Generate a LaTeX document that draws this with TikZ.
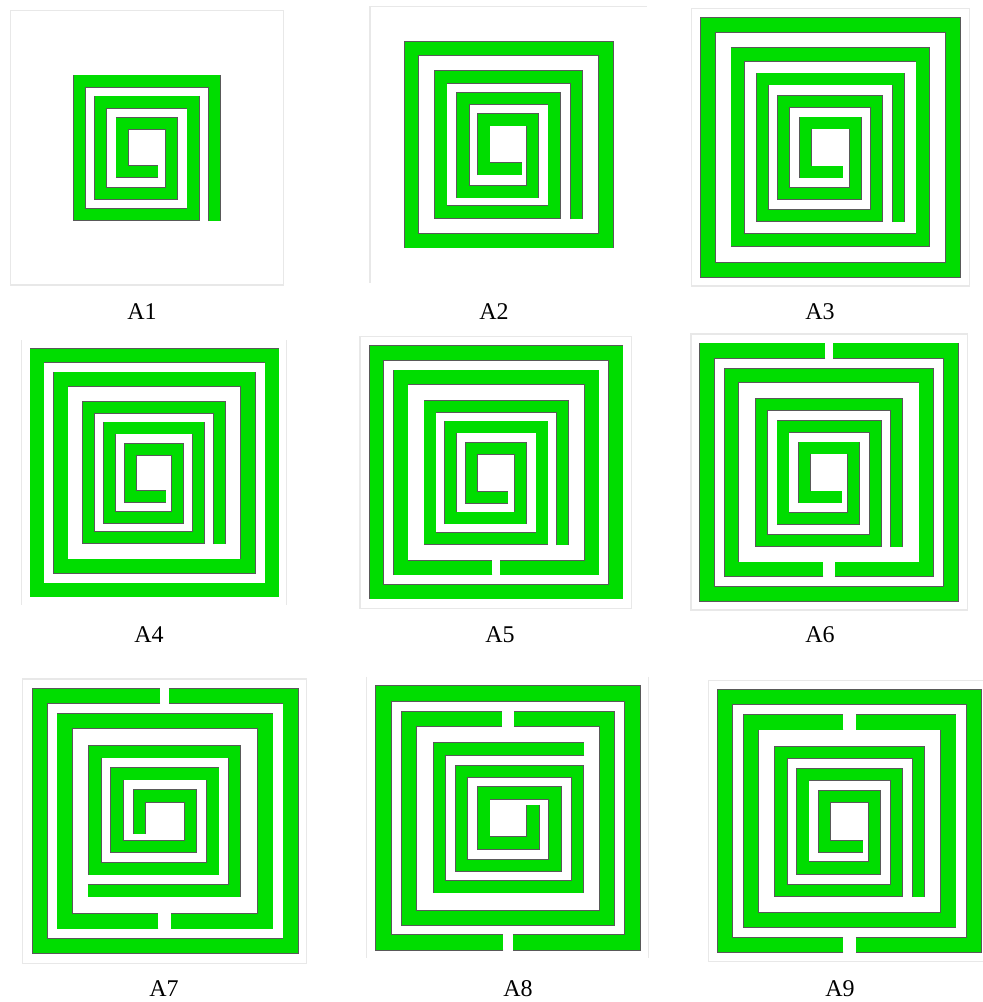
\documentclass[tikz,border=0pt]{standalone}
\usepackage{fontspec}
\setmainfont{Liberation Serif}
\usepackage{tikz}

\definecolor{mazegreen}{RGB}{0,221,0}

\tikzset{
  wall/.style={draw=black!65, line width=0.85pt, double=mazegreen, double distance=#1},
  frame/.style={draw=black!9, line width=1.1pt},
  panelname/.style={font=\fontsize{24}{24}\selectfont, anchor=base, inner sep=0pt}
}

\begin{document}
\begin{tikzpicture}[x=1pt, y=-1pt]
    \useasboundingbox (0,0) rectangle (983,1002);

    % A1 : UNA SOLA ESPIRAL
    \draw[frame] (10.7,10.7) rectangle (283.3,285);
    \draw[wall=11.3pt] (214.3,221) -- (214.3,81) -- (79.3,81) -- (79.3,214.7) -- (193,214.7) -- (193,102) -- (100.7,102) -- (100.7,193.3) -- (171.7,193.3) -- (171.7,123.2) -- (122,123.2) -- (122,171.7) -- (158.3,171.7);
    \node[panelname] (nA1) at (142,319.5) {A1};

    % A2 : ANELL TANCAT + ESPIRAL
    \draw[frame] (370,283) -- (370,6.7) -- (646.7,6.7);
    \draw[wall=13.6pt] (411.5,48.3) rectangle (606,240.8);
    \draw[wall=11.6pt] (576.3,219) -- (576.3,77) -- (440.8,77) -- (440.8,212) -- (554.2,212) -- (554.2,98.3) -- (463,98.3) -- (463,191.7) -- (532.5,191.7) -- (532.5,119.8) -- (483.7,119.8) -- (483.7,168.7) -- (521.7,168.7);
    \node[panelname] (nA2) at (494,319.5) {A2};

    % A3 : DOS ANELLS TANCATS + ESPIRAL
    \draw[frame] (691.7,8.3) rectangle (969.3,286);
    \draw[wall=14.1pt] (707.8,24.7) rectangle (952.8,269.7);
    \draw[wall=12.9pt] (737.8,54.7) rectangle (922.8,240);
    \draw[wall=11.1pt] (898.7,221.7) -- (898.7,79) -- (762.5,79) -- (762.5,215.5) -- (876.3,215.5) -- (876.3,101.2) -- (783.7,101.2) -- (783.7,193.7) -- (855.3,193.7) -- (855.3,123) -- (805.5,123) -- (805.5,172) -- (842.7,172);
    \node[panelname] (nA3) at (820,319.5) {A3};

    % A4 : DOS ANELLS TANCATS + ESPIRAL
    \draw[frame] (21.7,340) -- (21.7,605);
    \draw[frame] (286.7,340) -- (286.7,605);
    \draw[wall=13.1pt] (37,355.8) rectangle (272,590);
    \draw[wall=13.6pt] (60.8,379.2) rectangle (248,566.2);
    \draw[wall=11.1pt] (219.2,544) -- (219.2,407.5) -- (88.7,407.5) -- (88.7,537.8) -- (198.3,537.8) -- (198.3,428) -- (109.7,428) -- (109.7,517.5) -- (177.7,517.5) -- (177.7,449.5) -- (130.3,449.5) -- (130.3,496.3) -- (166,496.3);
    \node[panelname] (nA4) at (149,642.5) {A4};

    % A5 : ANELL TANCAT + ANELL OBERT A BAIX + ESPIRAL
    \draw[frame] (360,336.7) rectangle (631.7,608.3);
    \draw[wall=13.6pt] (376.5,353) rectangle (615.8,591.7);
    \draw[wall=13.6pt] (492.3,567.8) -- (400.8,567.8) -- (400.8,377.2) -- (591.7,377.2) -- (591.7,567.8) -- (500,567.8);
    \draw[wall=11.1pt] (562.8,545) -- (562.8,406.3) -- (430,406.3) -- (430,538.7) -- (542,538.7) -- (542,427) -- (450.5,427) -- (450.5,518) -- (520.5,518) -- (520.5,448.7) -- (471.7,448.7) -- (471.7,497.2) -- (508.3,497.2);
    \node[panelname] (nA5) at (500,642.5) {A5};

    % A6 : ANELL OBERT A DALT + ANELL OBERT A BAIX + ESPIRAL
    \draw[frame] (691,334) rectangle (967.3,610);
    \draw[wall=14.3pt] (825,350.5) -- (707.2,350.5) -- (707.2,593.8) -- (951.2,593.8) -- (951.2,350.5) -- (833.3,350.5);
    \draw[wall=13.6pt] (823.3,569.2) -- (731.5,569.2) -- (731.5,375.5) -- (926.2,375.5) -- (926.2,569.2) -- (835,569.2);
    \draw[wall=11.1pt] (896.2,546.7) -- (896.2,404.7) -- (761.2,404.7) -- (761.2,540.3) -- (875.5,540.3) -- (875.5,426.3) -- (783,426.3) -- (783,518.7) -- (853.7,518.7) -- (853.7,448) -- (804.5,448) -- (804.5,497) -- (841.7,497);
    \node[panelname] (nA6) at (820,642.5) {A6};

    % A7 : ESPIRAL INVERTIDA
    \draw[frame] (22.7,679) rectangle (306.7,963.3);
    \draw[wall=14.3pt] (160,696.2) -- (39.7,696.2) -- (39.7,946.2) -- (290.5,946.2) -- (290.5,696.2) -- (169.3,696.2);
    \draw[wall=14.6pt] (158.3,921.2) -- (64.7,921.2) -- (64.7,721) -- (265.3,721) -- (265.3,921.2) -- (170.7,921.2);
    \draw[wall=11.6pt] (88.3,890.7) -- (234.5,890.7) -- (234.5,751.7) -- (95,751.7) -- (95,868.7) -- (212.8,868.7) -- (212.8,773.7) -- (117,773.7) -- (117,846.3) -- (190.5,846.3) -- (190.5,796) -- (139.5,796) -- (139.5,834);
    \node[panelname] (nA7) at (164,996.5) {A7};

    % A8 : ESPIRAL QUE ACABA CAP AMUNT
    \draw[frame] (366.7,676.7) -- (366.7,958.3);
    \draw[frame] (648.3,676.7) -- (648.3,958.3);
    \draw[wall=15.1pt] (503.3,942.5) -- (383.7,942.5) -- (383.7,693.7) -- (632.3,693.7) -- (632.3,942.5) -- (512.7,942.5);
    \draw[wall=14.3pt] (501.7,718.8) -- (408.8,718.8) -- (408.8,917.8) -- (607.2,917.8) -- (607.2,718.8) -- (514,718.8);
    \draw[wall=11.6pt] (584,749) -- (439.3,749) -- (439.3,886.7) -- (577.3,886.7) -- (577.3,771.3) -- (461.3,771.3) -- (461.3,865.3) -- (555,865.3) -- (555,793) -- (483.7,793) -- (483.7,843) -- (533,843) -- (533,805);
    \node[panelname] (nA8) at (518,996.5) {A8};

    % A9 : ANELL OBERT A BAIX + ANELL OBERT A DALT + ESPIRAL
    \draw[frame] (983,680.7) -- (708.3,680.7) -- (708.3,961.7) -- (983,961.7);
    \draw[wall=14.1pt] (843.3,945.3) -- (725.3,945.3) -- (725.3,696.8) -- (973.8,696.8) -- (973.8,945.3) -- (856,945.3);
    \draw[wall=14.6pt] (843.3,722.2) -- (750.8,722.2) -- (750.8,920) -- (948.3,920) -- (948.3,722.2) -- (856,722.2);
    \draw[wall=11.4pt] (918.7,896.7) -- (918.7,752.5) -- (781,752.5) -- (781,890.3) -- (896.3,890.3) -- (896.3,774.2) -- (802.8,774.2) -- (802.8,868) -- (874.5,868) -- (874.5,796.2) -- (824.5,796.2) -- (824.5,846.3) -- (862.7,846.3);
    \node[panelname] (nA9) at (840,996.5) {A9};

\end{tikzpicture}
\end{document}
